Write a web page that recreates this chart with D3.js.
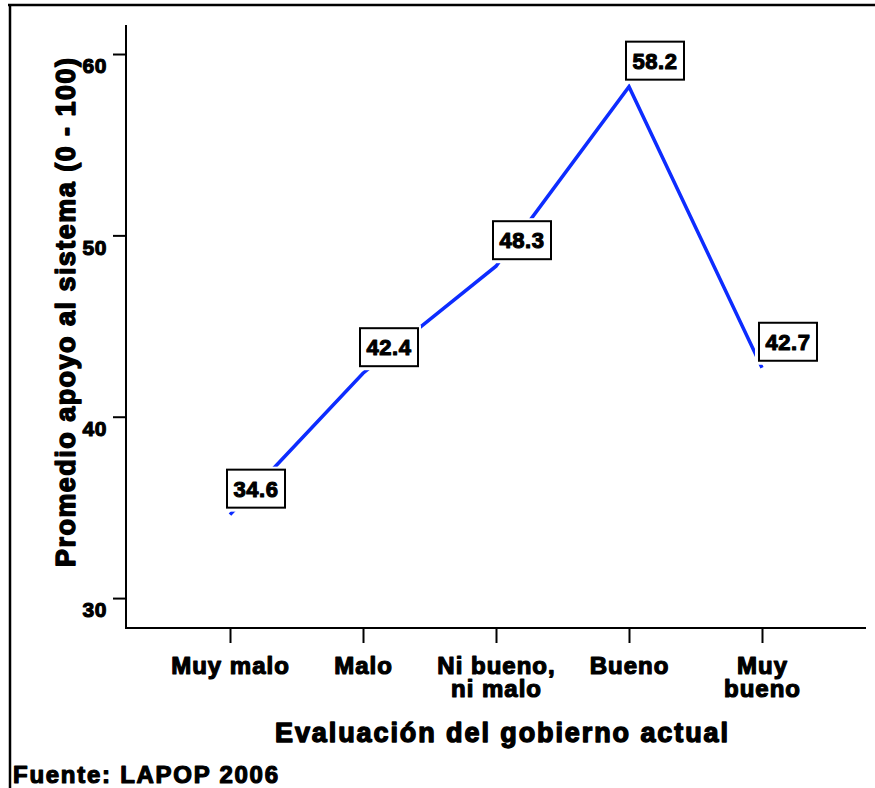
<!DOCTYPE html>
<html>
<head>
<meta charset="utf-8">
<script src="https://cdn.jsdelivr.net/npm/d3@7"></script>
<style>
  html, body { margin: 0; padding: 0; background: #fff; }
  svg text { font-family: "Liberation Sans", Arial, sans-serif; font-weight: bold; fill: #000; stroke: #000; stroke-linejoin: round; }
</style>
</head>
<body>
<svg id="chart" width="875" height="788"></svg>
<script>
const categories = [["Muy malo"], ["Malo"], ["Ni bueno,", "ni malo"], ["Bueno"], ["Muy", "bueno"]];
const categoryKeys = ["Muy malo", "Malo", "Ni bueno, ni malo", "Bueno", "Muy bueno"];
const values = [34.6, 42.4, 48.3, 58.2, 42.7];
const yTicks = [30, 40, 50, 60];
const xTitle = "Evaluación del gobierno actual";
const yTitle = "Promedio apoyo al sistema (0 - 100)";
const source = "Fuente: LAPOP 2006";

(function () {
const svg = d3.select("#chart");
const pL = 126, pR = 866, pT = 25, pB = 628;

const x = d3.scalePoint().domain(categoryKeys).range([pL, pR]).padding(0.782);
const y = d3.scaleLinear().domain([28.35, 61.6]).range([pB, pT]);

// outer frame (top & left)
svg.append("line").attr("x1", 8).attr("x2", 875).attr("y1", 5).attr("y2", 5)
  .attr("stroke", "#000").attr("stroke-width", 2.5);
svg.append("line").attr("x1", 10).attr("x2", 10).attr("y1", 4).attr("y2", 788)
  .attr("stroke", "#000").attr("stroke-width", 2.5);

// Y axis
const yAxis = svg.append("g").attr("transform", `translate(${pL},0)`)
  .call(d3.axisLeft(y).tickValues(yTicks).tickSize(13).tickPadding(6).tickFormat(d3.format("d")));
yAxis.select(".domain").remove();
yAxis.selectAll(".tick line").attr("stroke", "#000").attr("stroke-width", 2);
yAxis.selectAll(".tick text")
  .attr("dy", "0.9em").attr("dx", "0")
  .style("font-size", "21px").style("letter-spacing", "0.6px").style("stroke-width", "1.1px");
svg.append("line").attr("x1", pL).attr("x2", pL).attr("y1", pT).attr("y2", pB + 1)
  .attr("stroke", "#000").attr("stroke-width", 2);

// X axis
const xAxis = svg.append("g").attr("transform", `translate(0,${pB})`)
  .call(d3.axisBottom(x).tickSize(15).tickFormat(""));
xAxis.select(".domain").remove();
xAxis.selectAll(".tick line").attr("stroke", "#000").attr("stroke-width", 2);
svg.append("line").attr("x1", pL - 1).attr("x2", pR).attr("y1", pB).attr("y2", pB)
  .attr("stroke", "#000").attr("stroke-width", 2);

// X tick labels (one text per line)
categoryKeys.forEach((k, i) => {
  categories[i].forEach((ln, j) => {
    svg.append("text")
      .attr("x", x(k) + 0.5).attr("y", 674 + j * 23)
      .attr("text-anchor", "middle")
      .style("font-size", "24px").style("letter-spacing", "1px").style("stroke-width", "1.2px")
      .text(ln);
  });
});

// line
const lineGen = d3.line().x((d, i) => x(categoryKeys[i])).y(d => y(d));
svg.append("path").datum(values)
  .attr("d", lineGen).attr("fill", "none")
  .attr("stroke", "#0d2cff").attr("stroke-width", 3.5)
  .attr("stroke-linejoin", "miter");

// value labels in boxes
const boxW = 58, boxH = 38;
const labels = svg.append("g");
values.forEach((v, i) => {
  const px = x(categoryKeys[i]), py = y(v);
  const bx = px - 3, by = py - 7 - boxH;
  labels.append("rect").attr("x", bx - 4).attr("y", by - 3).attr("width", boxW + 7).attr("height", boxH + 7)
    .attr("fill", "#fff");
  labels.append("rect").attr("x", bx).attr("y", by).attr("width", boxW).attr("height", boxH)
    .attr("fill", "#fff").attr("stroke", "#000").attr("stroke-width", 2);
  labels.append("text").attr("x", bx + boxW / 2).attr("y", by + 27)
    .attr("text-anchor", "middle")
    .style("font-size", "22px").style("letter-spacing", "0.6px").style("stroke-width", "1.1px")
    .text(d3.format(".1f")(v));
});

// axis titles
svg.append("text").attr("x", 275).attr("y", 742)
  .attr("textLength", 453).attr("lengthAdjust", "spacing")
  .style("font-size", "27px").style("stroke-width", "1.4px")
  .text(xTitle);

svg.append("text").attr("transform", "translate(75,567) rotate(-90)")
  .attr("x", 0).attr("y", 0)
  .attr("textLength", 509).attr("lengthAdjust", "spacing")
  .style("font-size", "27px").style("stroke-width", "1.4px")
  .text(yTitle);

svg.append("text").attr("x", 13).attr("y", 783)
  .attr("textLength", 265).attr("lengthAdjust", "spacing")
  .style("font-size", "24px").style("stroke-width", "1.2px")
  .text(source);
})();
</script>
</body>
</html>
